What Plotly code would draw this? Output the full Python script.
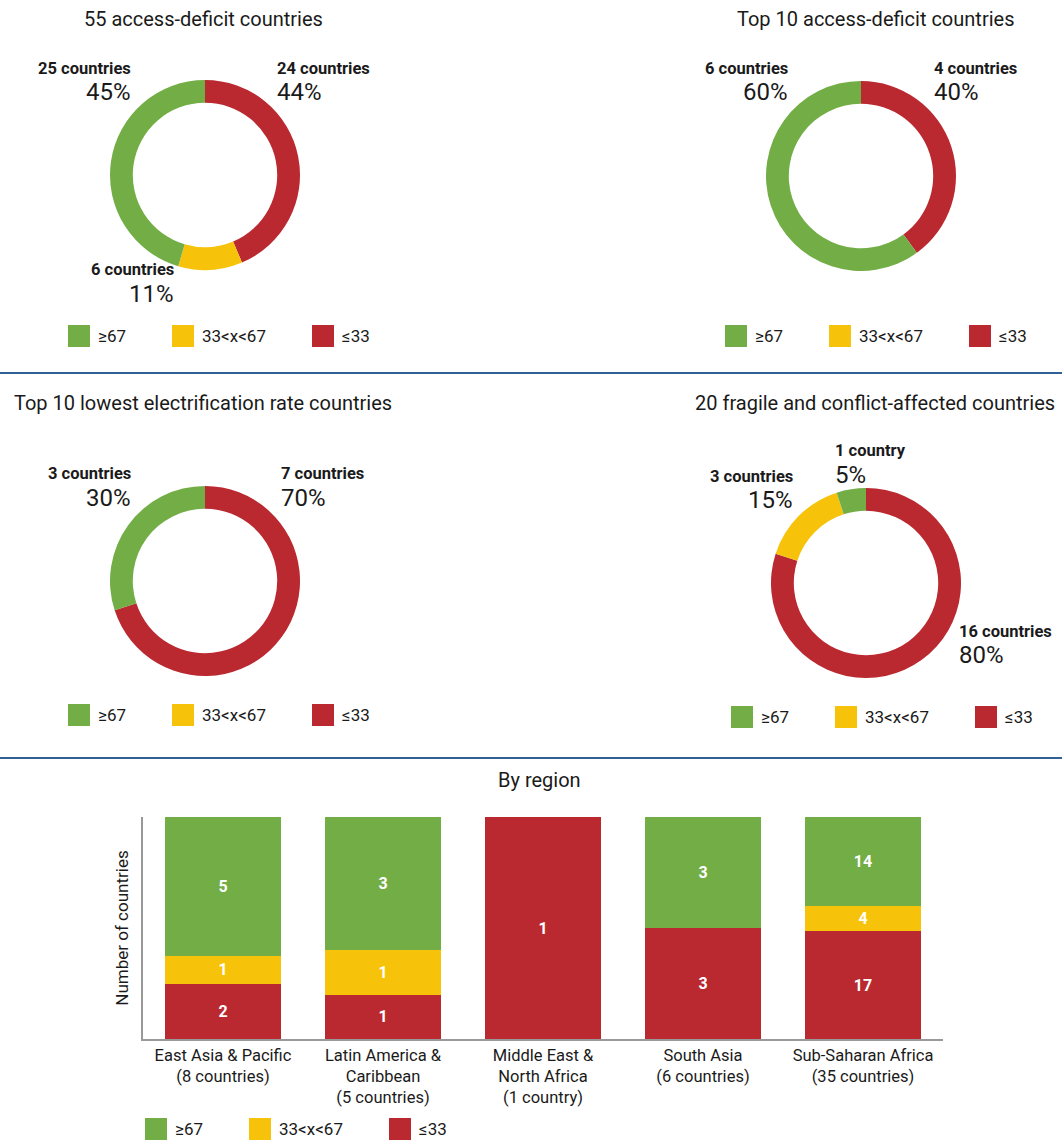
import plotly.graph_objects as go

W, H = 1062, 1141

# ---------------- data ----------------
categories = ["≥67", "33<x<67", "≤33"]
colors = {"≥67": "#72AE45", "33<x<67": "#F7C30A", "≤33": "#BA2830"}

# donut order drawn clockwise from 12 o'clock: ≤33, 33<x<67, ≥67
donut_titles = [
    "55 access-deficit countries",
    "Top 10 access-deficit countries",
    "Top 10 lowest electrification rate countries",
    "20 fragile and conflict-affected countries",
]
donut_low = [24, 4, 7, 16]     # ≤33
donut_mid = [6, 0, 0, 3]       # 33<x<67
donut_high = [25, 6, 3, 1]     # ≥67

regions = [
    "East Asia & Pacific<br>(8 countries)",
    "Latin America &<br>Caribbean<br>(5 countries)",
    "Middle East &<br>North Africa<br>(1 country)",
    "South Asia<br>(6 countries)",
    "Sub-Saharan Africa<br>(35 countries)",
]
region_low = [2, 1, 1, 3, 17]
region_mid = [1, 1, 0, 0, 4]
region_high = [5, 3, 0, 3, 14]

FONT = "Roboto, 'Liberation Sans', sans-serif"
TXT = "#1a1a1a"

fig = go.Figure()


def px_x(x):
    return x / W


def px_y(y):
    return 1 - y / H


# ---------------- donuts ----------------
# (center x, center y, radius) in pixels
donut_geo = [(205, 175, 95), (861, 176, 95), (205, 581, 95), (866, 583, 95)]
for i, (cx, cy, r) in enumerate(donut_geo):
    vals = [donut_low[i], donut_mid[i], donut_high[i]]
    labs = ["≤33", "33<x<67", "≥67"]
    fig.add_trace(go.Pie(
        values=vals, labels=labs, sort=False, direction="clockwise", rotation=0,
        hole=0.76, textinfo="none", hoverinfo="label+value+percent",
        marker=dict(colors=[colors[l] for l in labs], line=dict(width=0)),
        domain=dict(x=[px_x(cx - r), px_x(cx + r)], y=[px_y(cy + r), px_y(cy - r)]),
        showlegend=False,
    ))

annotations = []
shapes = []


def text(x, y, s, size, xanchor="center", bold=False, color=TXT, yanchor="middle"):
    annotations.append(dict(
        x=px_x(x), y=px_y(y), xref="paper", yref="paper", text=(f"<b>{s}</b>" if bold else s),
        showarrow=False, xanchor=xanchor, yanchor=yanchor,
        font=dict(family=FONT, size=size, color=color),
    ))


# titles
title_pos = [(203, 19), (875, 19), (203, 403), (875, 403)]
for t, (x, y) in zip(donut_titles, title_pos):
    text(x, y, t, 20)
text(539, 780, "By region", 20)


def pct(n, tot):
    return f"{round(100 * n / tot)}%"


def slice_label(x, y, n, tot, anchor):
    word = "country" if n == 1 else "countries"
    text(x, y, f"{n} {word}", 16.5, xanchor=anchor, bold=True)
    text(x, y + 24, pct(n, tot), 24, xanchor=anchor)


tot = [donut_low[i] + donut_mid[i] + donut_high[i] for i in range(4)]
# donut 1
slice_label(133, 68, donut_high[0], tot[0], "right")
slice_label(275, 68, donut_low[0], tot[0], "left")
slice_label(176, 270, donut_mid[0], tot[0], "right")
# donut 2
slice_label(790, 68, donut_high[1], tot[1], "right")
slice_label(932, 68, donut_low[1], tot[1], "left")
# donut 3
slice_label(133, 474, donut_high[2], tot[2], "right")
slice_label(279, 474, donut_low[2], tot[2], "left")
# donut 4
slice_label(833, 451, donut_high[3], tot[3], "left")
slice_label(795, 476, donut_mid[3], tot[3], "right")
slice_label(957, 631, donut_low[3], tot[3], "left")

# legends
legend_rows = [(68, 336), (725, 336), (68, 715), (731, 717), (145, 1129)]
leg_offsets = [0, 104, 244]
for (lx, ly) in legend_rows:
    for cat, off in zip(categories, leg_offsets):
        x0 = lx + off
        shapes.append(dict(type="rect", xref="paper", yref="paper",
                           x0=px_x(x0), x1=px_x(x0 + 22), y0=px_y(ly + 11), y1=px_y(ly - 11),
                           fillcolor=colors[cat], line=dict(width=0)))
        text(x0 + 28, ly, cat.replace("<", "&lt;"), 17, xanchor="left")

# separators
for y in (373, 758):
    shapes.append(dict(type="line", xref="paper", yref="paper",
                       x0=0, x1=1, y0=px_y(y), y1=px_y(y),
                       line=dict(color="#2F6096", width=2)))

# ---------------- stacked bars ----------------
for cat, vals in (("≤33", region_low), ("33<x<67", region_mid), ("≥67", region_high)):
    fig.add_trace(go.Bar(
        x=regions, y=vals, name=cat, marker=dict(color=colors[cat], line=dict(width=0)),
        text=[str(v) if v else "" for v in vals], texttemplate="%{text}",
        textposition="inside", insidetextanchor="middle", constraintext="none",
        textfont=dict(family=FONT, size=16, color="white", weight="bold"),
        showlegend=False, xaxis="x", yaxis="y",
    ))

fig.update_layout(
    width=W, height=H, margin=dict(l=0, r=0, t=0, b=0),
    paper_bgcolor="white", plot_bgcolor="white",
    barmode="stack", barnorm="percent", bargap=0.275,
    font=dict(family=FONT, color=TXT),
    xaxis=dict(domain=[px_x(143), px_x(943)], anchor="y", showline=True, linecolor="#999999",
               linewidth=1.5, ticks="", tickfont=dict(size=16.5, color=TXT), showgrid=False),
    yaxis=dict(domain=[px_y(1039), px_y(817)], anchor="x", range=[0, 100], showline=True,
               linecolor="#999999", linewidth=1.5, showticklabels=False, ticks="", showgrid=False,
               zeroline=False,
               title=dict(text="Number of countries", font=dict(size=17, color=TXT), standoff=8)),
    annotations=annotations, shapes=shapes,
)

fig.write_html("out.html", config={"displayModeBar": False},
               post_script="document.body.style.margin='0';")
